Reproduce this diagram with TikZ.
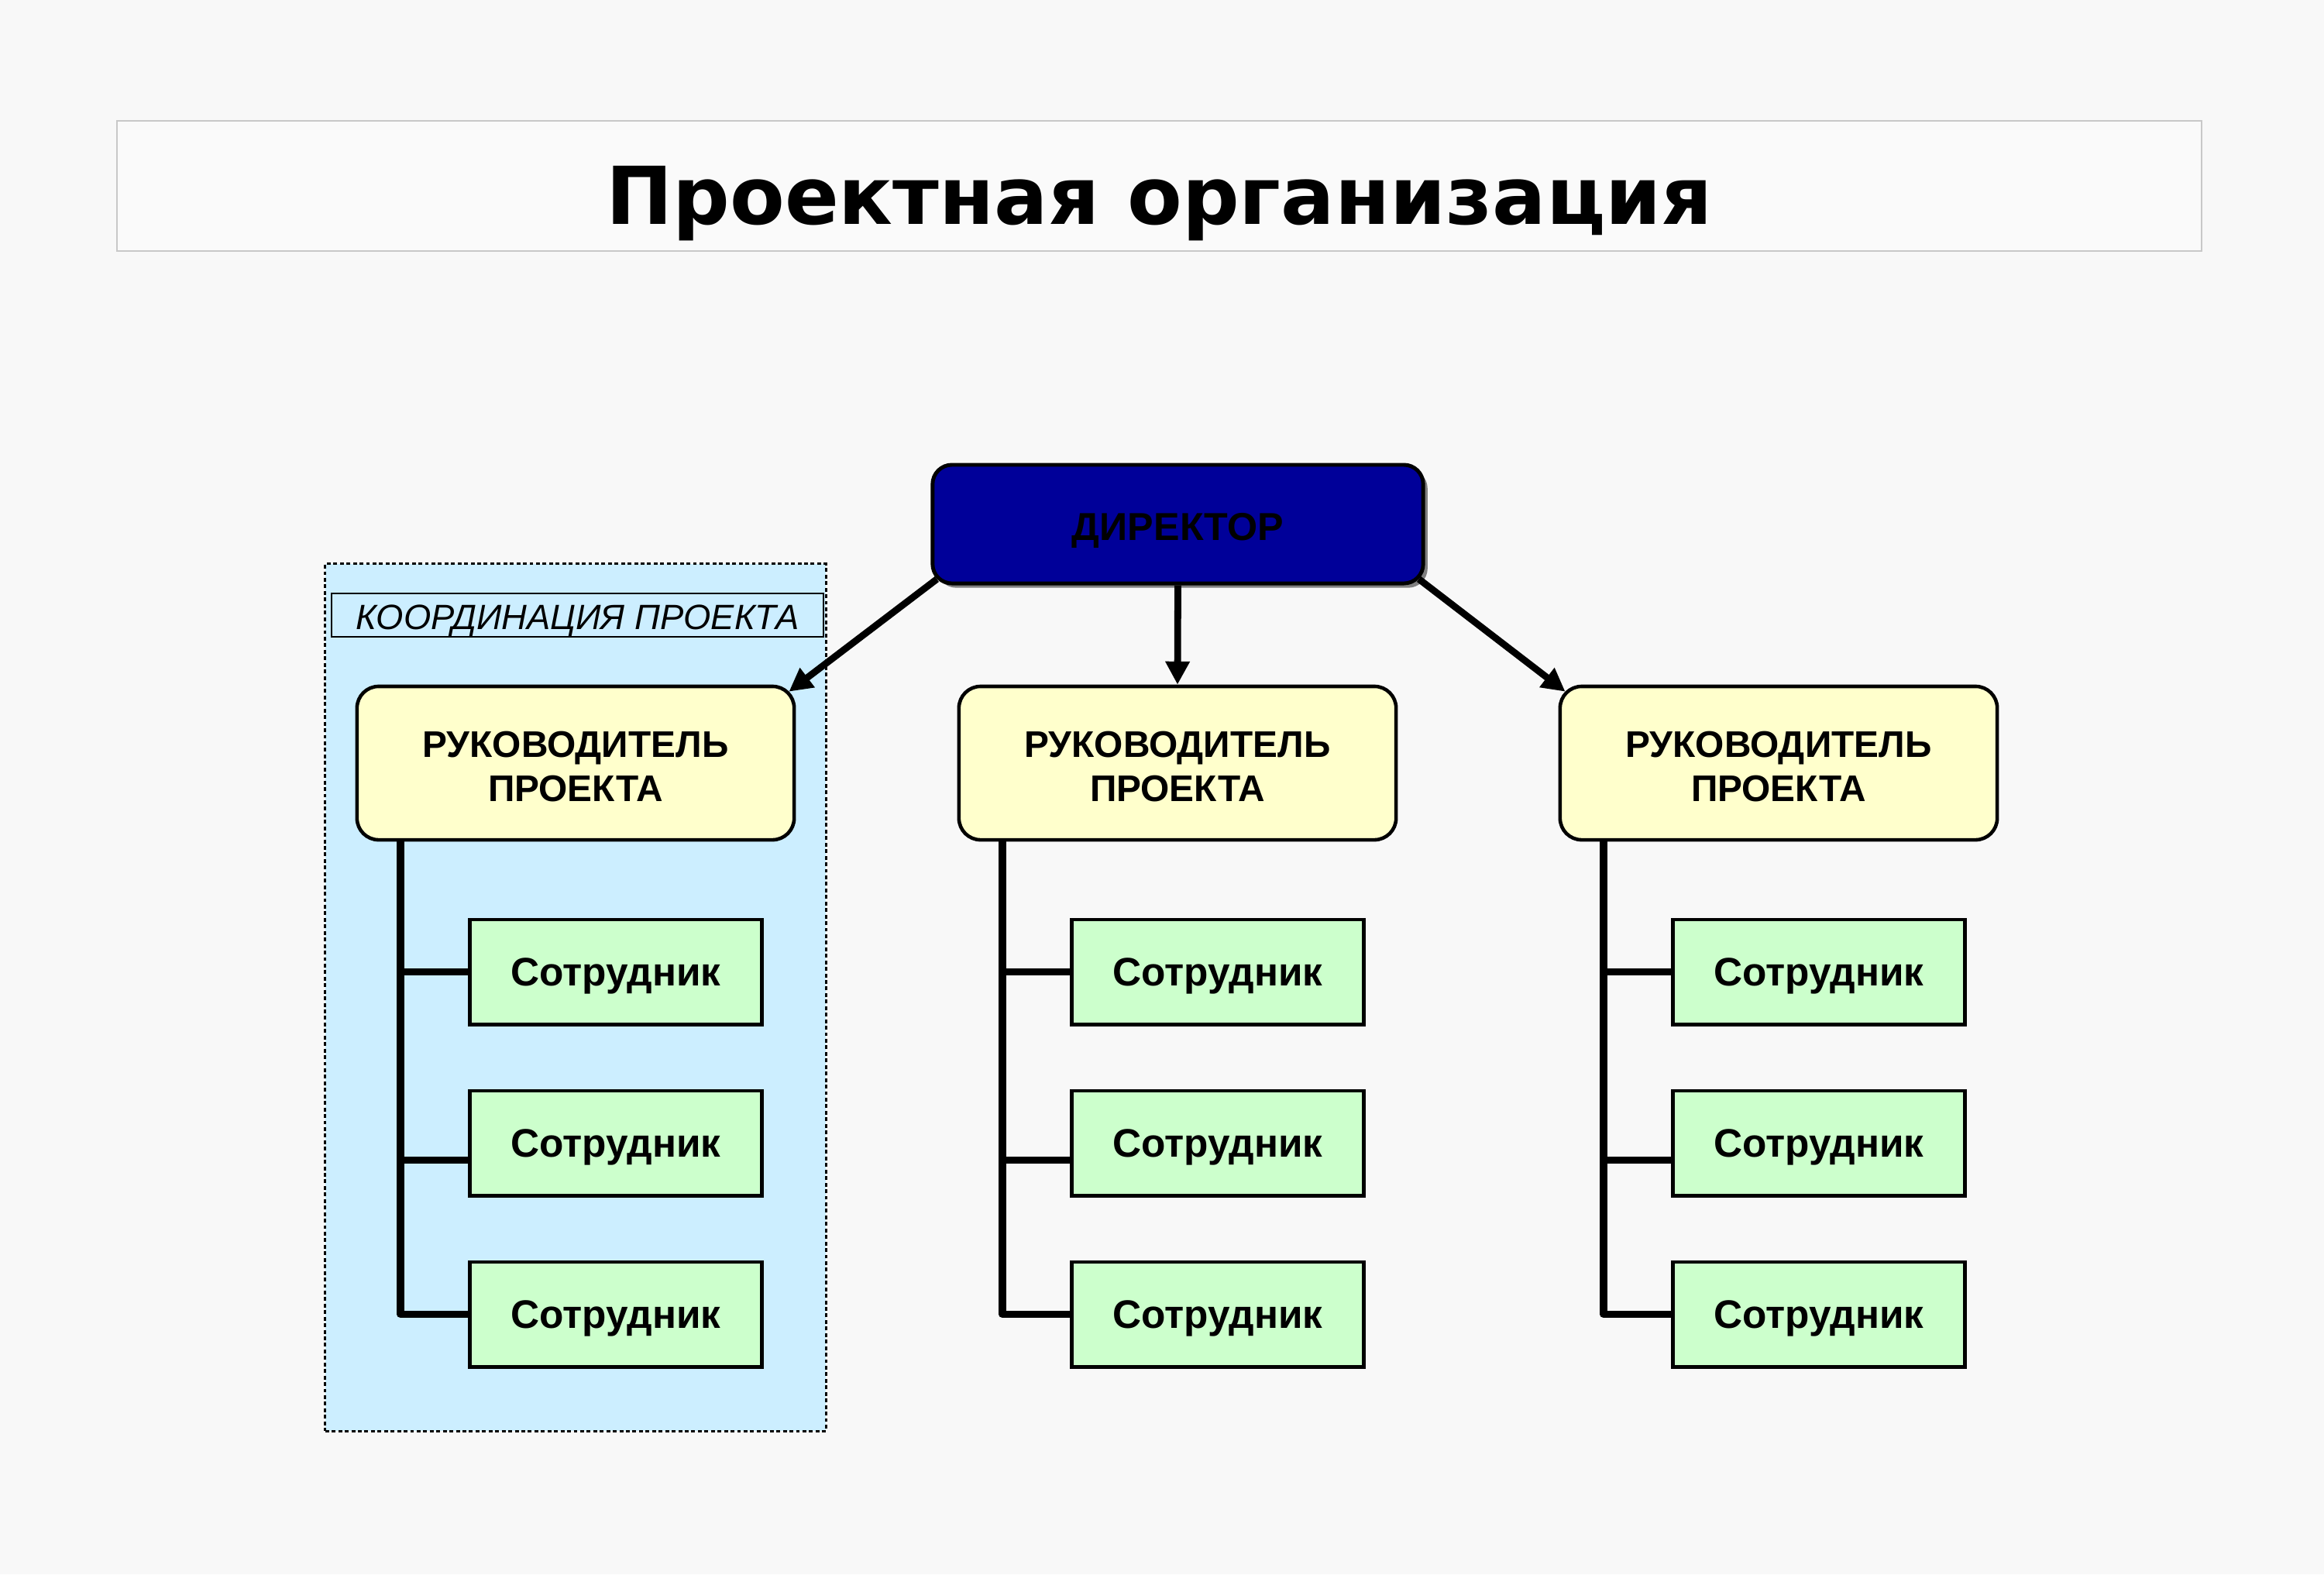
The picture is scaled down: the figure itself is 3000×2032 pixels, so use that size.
\documentclass[tikz,border=0pt]{standalone}
\usepackage{fontspec}
\setmainfont{Liberation Sans}
\newfontfamily\titlefont{DejaVu Sans}
\usetikzlibrary{arrows.meta,calc,shadows}
\definecolor{bgc}{HTML}{F8F8F8}
\definecolor{titlefill}{HTML}{FAFAFA}
\definecolor{titlebord}{HTML}{C8C8C8}
\definecolor{contfill}{HTML}{CCEEFF}
\definecolor{leadfill}{HTML}{FFFFCC}
\definecolor{empfill}{HTML}{CCFFCC}
\definecolor{dirfill}{HTML}{000099}
\definecolor{shadowc}{HTML}{808080}
\tikzset{
  titlebox/.style={draw=titlebord, line width=0.5pt, fill=titlefill, minimum width=26.89cm, minimum height=1.68cm, inner sep=0pt},
  titletext/.style={font=\titlefont\bfseries\fontsize{29.3pt}{34pt}\selectfont, inner sep=0pt},
  container/.style={draw=black, line width=0.9pt, dash pattern=on 1.4pt off 1pt, fill=contfill, minimum width=6.46cm, minimum height=11.19cm, inner sep=0pt},
  coordbox/.style={draw=black, line width=0.6pt, fill=contfill, minimum width=6.35cm, minimum height=0.56cm, inner sep=0pt},
  coordtext/.style={font=\itshape\fontsize{12.9pt}{15pt}\selectfont, inner sep=0pt},
  dirbox/.style={draw=black, line width=1.4pt, fill=dirfill, rounded corners=0.25cm, minimum width=6.33cm, minimum height=1.53cm, font=\bfseries\fontsize{14.3pt}{17pt}\selectfont, text height=12.2pt, text depth=0pt, drop shadow={fill=shadowc, opacity=1, shadow xshift=1.6pt, shadow yshift=-1.6pt}},
  leadbox/.style={draw=black, line width=1.3pt, fill=leadfill, rounded corners=0.28cm, minimum width=5.64cm, minimum height=1.98cm, align=center, font=\bfseries\fontsize{13.6pt}{16.2pt}\selectfont},
  emp/.style={draw=black, line width=1.4pt, fill=empfill, minimum width=3.76cm, minimum height=1.35cm, font=\bfseries\fontsize{14.6pt}{17pt}\selectfont, text height=10.4pt, text depth=0pt},
  arr/.style={line width=2.5pt, -{Triangle[length=8.5pt,width=8.5pt]}},
  tree/.style={line width=2.6pt, line join=round}
}
\newcommand{\leadtext}{\rule{0pt}{12pt}РУКОВОДИТЕЛЬ\\ПРОЕКТА}
\begin{document}
\begin{tikzpicture}[x=0.01cm,y=-0.01cm]
\fill[bgc] (0,0) rectangle (3000,2032);
\useasboundingbox (0,0) rectangle (3000,2032);

\node[titlebox] (tbox) at (1496.5,240) {};
\node[titletext, anchor=base] (ttext) at ($(tbox.center)+(0,49)$) {Проектная организация};

\node[container] (cont) at (743,1287.5) {};
\node[coordbox] (cbox) at (745.5,794) {};
\node[coordtext, anchor=base] (ctext) at ($(cbox.center)+(0,18)$) {КООРДИНАЦИЯ ПРОЕКТА};

\node[dirbox] (dir) at (1520.5,676.5) {ДИРЕКТОР};

\node[leadbox] (l1) at (743,985) {\leadtext};
\node[leadbox] (l2) at (1520,985) {\leadtext};
\node[leadbox] (l3) at (2296,985) {\leadtext};

\foreach \c/\x in {1/795,2/1572,3/2348}{
  \node[emp] (e\c1) at (\x,1254.5) {Сотрудник};
  \node[emp] (e\c2) at (\x,1475.5) {Сотрудник};
  \node[emp] (e\c3) at (\x,1696.5) {Сотрудник};
}

\draw[arr] ($(dir.south west)+(8,-8)$) -- ($(l1.north east)+(-9,9)$);
\draw[arr] (dir.south) -- (l2.north);
\draw[arr] ($(dir.south east)+(-8,-8)$) -- ($(l3.north west)+(9,9)$);

\foreach \c in {1,2,3}{
  \coordinate (v\c) at ($(l\c.south)+(-226,0)$);
  \coordinate (b\c2) at ($(e\c2.west)+(0,22)$);
  \draw[tree] (v\c) |- (e\c3.west);
  \draw[tree] (v\c |- e\c1.west) -- (e\c1.west);
  \draw[tree] (v\c |- b\c2) -- (b\c2);
}
\end{tikzpicture}
\end{document}
